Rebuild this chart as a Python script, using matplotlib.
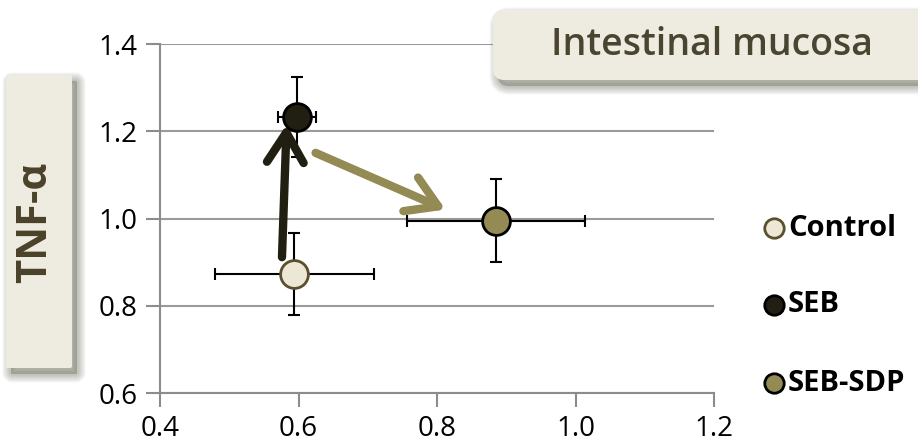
import matplotlib.pyplot as plt
from matplotlib.patches import FancyBboxPatch, FancyArrowPatch
from matplotlib.lines import Line2D

plt.rcParams['font.family'] = ['Open Sans', 'DejaVu Sans']

groups = ["Control", "SEB", "SEB-SDP"]
x_vals = [0.594, 0.598, 0.885]
y_vals = [0.872, 1.232, 0.995]
x_err = [0.115, 0.027, 0.128]
y_err = [0.094, 0.092, 0.095]
fills = ["#ede8d5", "#211e12", "#948a54"]
edges = ["#5a5030", "#000000", "#000000"]

# arrows: (start, end) in data units
arrow_black = ((0.576, 0.905), (0.583, 1.222))
arrow_olive = ((0.621, 1.153), (0.816, 1.018))

fig = plt.figure(figsize=(9.18, 4.48), dpi=100)
ax = fig.add_axes([160/918, 1-393/448, (714-160)/918, (393-44)/448])

for i in range(3):
    ax.errorbar(x_vals[i], y_vals[i], xerr=x_err[i], yerr=y_err[i],
                fmt='none', ecolor='black', elinewidth=1.5, capsize=4, capthick=1.5, zorder=3)

for (s, e), c in [(arrow_black, "#211e12"), (arrow_olive, "#948a54")]:
    ax.add_patch(FancyArrowPatch(s, e, arrowstyle='->,head_length=1.8,head_width=1.1',
                                 color=c, lw=6, capstyle='round', joinstyle='round',
                                 mutation_scale=12, zorder=4))

for i in range(3):
    ax.plot(x_vals[i], y_vals[i], 'o', ms=20, mfc=fills[i], mec=edges[i], mew=2, zorder=5)

ax.set_xlim(0.4, 1.2)
ax.set_ylim(0.6, 1.4)
ax.set_xticks([0.4, 0.6, 0.8, 1.0, 1.2])
ax.set_yticks([0.6, 0.8, 1.0, 1.2, 1.4])
ax.xaxis.set_major_formatter(plt.FormatStrFormatter('%.1f'))
ax.yaxis.set_major_formatter(plt.FormatStrFormatter('%.1f'))
ax.grid(axis='y', color='#9a9a9a', lw=1.5)
ax.set_axisbelow(True)
for s in ['top', 'right']:
    ax.spines[s].set_visible(False)
for s in ['left', 'bottom']:
    ax.spines[s].set_color('#8c8c8c')
    ax.spines[s].set_linewidth(1.5)
ax.tick_params(length=10, width=1.5, color='#8c8c8c', labelsize=20, pad=6)

# legend at right
leg_y = [1-228/448, 1-305/448, 1-383/448]
for i in range(3):
    fig.add_artist(Line2D([774/918], [leg_y[i]], marker='o', ms=14, mfc=fills[i],
                          mec=edges[i], mew=2, transform=fig.transFigure))
    fig.text(788/918, leg_y[i], groups[i], fontsize=21, fontweight='bold',
             va='center', ha='left')

# boxes with soft shadow
def shadow_box(x0, y0, w, h, rad):
    for k in range(6):
        fig.patches.append(FancyBboxPatch((x0 + 5/918, y0 - 6/448), w, h,
                           boxstyle=f"round,pad=0,rounding_size={rad}",
                           transform=fig.transFigure, fc='#6a6a5a', ec='#6a6a5a',
                           alpha=0.08, mutation_aspect=918/448,
                           lw=12 - 2*k, zorder=0))
    fig.patches.append(FancyBboxPatch((x0, y0), w, h,
                       boxstyle=f"round,pad=0,rounding_size={rad}",
                       transform=fig.transFigure, fc='#eeebe0', ec='none',
                       mutation_aspect=918/448, zorder=1))

shadow_box(493/918, 1-80/448, 450/918, 70/448, 0.012)
fig.text(712/918, 1-45/448, "Intestinal mucosa", fontsize=27, fontweight='semibold',
         color='#4a4530', ha='center', va='center', zorder=2)

shadow_box(6/918, 1-368/448, 66/918, 293/448, 0.002)
fig.text(36/918, 1-222/448, "TNF-α", fontsize=30, fontweight='bold', color='#4a4228',
         rotation=90, ha='center', va='center', zorder=2)

fig.savefig('out.png')
